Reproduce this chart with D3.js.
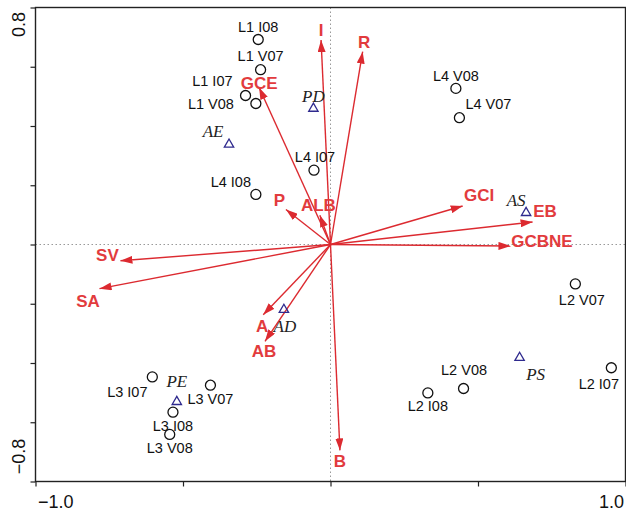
<!DOCTYPE html>
<html>
<head>
<meta charset="utf-8">
<script src="https://cdn.jsdelivr.net/npm/d3@7"></script>
<style>
  body { margin: 0; background: #fff; }
  svg { display: block; }
</style>
</head>
<body>
<script>
// sites (circles)
const siteNames = ["L1 I08", "L1 V07", "L1 I07", "L1 V08", "L4 I08", "L4 I07", "L4 V08", "L4 V07",
                   "L2 V07", "L2 I07", "L2 V08", "L2 I08", "L3 I07", "L3 V07", "L3 I08", "L3 V08"];
const siteX = [-0.245, -0.237, -0.288, -0.253, -0.253, -0.056, 0.425, 0.437,
               0.830, 0.952, 0.451, 0.330, -0.604, -0.407, -0.534, -0.545];
const siteY = [0.692, 0.590, 0.503, 0.476, 0.169, 0.251, 0.527, 0.428,
               -0.133, -0.416, -0.486, -0.501, -0.447, -0.475, -0.566, -0.641];

// species (triangles)
const speciesNames = ["PD", "AE", "AS", "AD", "PE", "PS"];
const speciesX = [-0.058, -0.344, 0.663, -0.158, -0.521, 0.641];
const speciesY = [0.459, 0.338, 0.107, -0.220, -0.531, -0.382];

// environmental variables (arrows)
const varNames = ["I", "R", "GCE", "P", "ALB", "GCI", "EB", "GCBNE", "SV", "SA", "A", "AB", "B"];
const varX = [-0.032, 0.109, -0.242, -0.151, -0.036, 0.448, 0.685, 0.610, -0.712, -0.783, -0.228, -0.222, 0.032];
const varY = [0.690, 0.651, 0.530, 0.118, 0.099, 0.130, 0.076, -0.005, -0.055, -0.149, -0.237, -0.327, -0.695];

const xTicks = [-1, -0.5, 0, 0.5, 1];
const yTicks = [-0.8, -0.6, -0.4, -0.2, 0, 0.2, 0.4, 0.6, 0.8];

// label offsets in pixels (layout only)
const siteLab = {
  "L1 I08": [0, -13, "middle"], "L1 V07": [0, -14, "middle"], "L1 I07": [-13, -14.5, "end"],
  "L1 V08": [-22, 0, "end"], "L4 I08": [-25, -12.5, "middle"], "L4 I07": [1, -13, "middle"],
  "L4 V08": [0, -13, "middle"], "L4 V07": [29, -13.5, "middle"], "L2 V07": [6.5, 15.5, "middle"],
  "L2 I07": [-12.5, 16, "middle"], "L2 V08": [0.5, -18.5, "middle"], "L2 I08": [0, 13, "middle"],
  "L3 I07": [-25, 15, "middle"], "L3 V07": [0, 14, "middle"], "L3 I08": [0, 13.5, "middle"],
  "L3 V08": [0, 13.5, "middle"]
};
const speciesLab = {
  PD: [0, -12.5], AE: [-16, -13.5], AS: [-10, -12.5], AD: [1, 16], PE: [0, -20.5], PS: [16, 16]
};
const varLab = {
  I: [0, -10], R: [1.5, -9.5], GCE: [0, -5], P: [-6.5, -10], ALB: [-1.5, -10.5], GCI: [16.5, -11.5],
  EB: [12.5, -11], GCBNE: [31.5, -5], SV: [-13, -5.5], SA: [-11.5, 12.5], A: [-1, 11], AB: [-1, 9.5], B: [0, 10]
};

const W = 626, H = 513;
const x = d3.scaleLinear().domain([-1, 1]).range([35.5, 625.5]);
const y = d3.scaleLinear().domain([-0.8, 0.8]).range([481.5, 7.5]);

const svg = d3.select("body").append("svg").attr("width", W).attr("height", H);

const red = "#dc2a30";
const redText = "#e23b3d";
const blue = "#2f2a8e";

svg.append("defs").append("marker")
  .attr("id", "head")
  .attr("viewBox", "0 0 12 8")
  .attr("refX", 12).attr("refY", 4)
  .attr("markerWidth", 12).attr("markerHeight", 8)
  .attr("markerUnits", "userSpaceOnUse")
  .attr("orient", "auto")
  .append("path").attr("d", "M0,0 L12,4 L0,8 Z").attr("fill", red);

// zero lines
svg.append("line")
  .attr("x1", x(0)).attr("x2", x(0)).attr("y1", y(0.8)).attr("y2", y(-0.8))
  .attr("stroke", "#999").attr("stroke-width", 1).attr("stroke-dasharray", "1.5,2.5");
svg.append("line")
  .attr("x1", x(-1)).attr("x2", x(1)).attr("y1", y(0)).attr("y2", y(0))
  .attr("stroke", "#999").attr("stroke-width", 1).attr("stroke-dasharray", "1.5,2.5");

// frame
svg.append("rect")
  .attr("x", x(-1)).attr("y", y(0.8))
  .attr("width", x(1) - x(-1)).attr("height", y(-0.8) - y(0.8))
  .attr("fill", "none").attr("stroke", "#222").attr("stroke-width", 1.4);

// axes
const xAxis = svg.append("g")
  .attr("transform", `translate(0,${y(-0.8)})`)
  .call(d3.axisBottom(x).tickValues(xTicks).tickSize(5).tickSizeOuter(0)
    .tickFormat(d => (d === -1 || d === 1) ? d3.format(".1f")(d) : ""));
xAxis.select(".domain").remove();
xAxis.selectAll(".tick line").attr("stroke", "#222").attr("stroke-width", 1.2);
xAxis.selectAll(".tick text")
  .attr("font-family", "Liberation Sans, Arial, sans-serif").attr("font-size", 18).attr("fill", "#111")
  .attr("y", 14)
  .attr("text-anchor", d => d === -1 ? "start" : "end")
  .attr("dx", d => d === -1 ? 2 : -2);

const yAxis = svg.append("g")
  .attr("transform", `translate(${x(-1)},0)`)
  .call(d3.axisLeft(y).tickValues(yTicks).tickSize(5).tickSizeOuter(0)
    .tickFormat(d => (Math.abs(d) === 0.8) ? d3.format(".1f")(d) : ""));
yAxis.select(".domain").remove();
yAxis.selectAll(".tick line").attr("stroke", "#222").attr("stroke-width", 1.2);
yAxis.selectAll(".tick text")
  .attr("font-family", "Liberation Sans, Arial, sans-serif").attr("font-size", 18).attr("fill", "#111")
  .attr("x", 0).attr("dy", 0)
  .attr("text-anchor", "middle")
  .attr("transform", d => `translate(-11,${d > 0 ? 16.5 : -25.5}) rotate(-90)`);

// arrows
const vars = varNames.map((n, i) => ({ name: n, x: varX[i], y: varY[i] }));
svg.append("g").selectAll("line").data(vars).join("line")
  .attr("x1", x(0)).attr("y1", y(0))
  .attr("x2", d => x(d.x)).attr("y2", d => y(d.y))
  .attr("stroke", red).attr("stroke-width", 1.4)
  .attr("marker-end", "url(#head)");

// sites
const sites = siteNames.map((n, i) => ({ name: n, x: siteX[i], y: siteY[i] }));
svg.append("g").selectAll("circle").data(sites).join("circle")
  .attr("cx", d => x(d.x)).attr("cy", d => y(d.y)).attr("r", 5)
  .attr("fill", "none").attr("stroke", "#111").attr("stroke-width", 1.3);
svg.append("g").selectAll("text").data(sites).join("text")
  .attr("x", d => x(d.x) + siteLab[d.name][0])
  .attr("y", d => y(d.y) + siteLab[d.name][1])
  .attr("dy", "0.36em")
  .attr("text-anchor", d => siteLab[d.name][2])
  .attr("font-family", "Liberation Sans, Arial, sans-serif").attr("font-size", 14.5).attr("fill", "#111")
  .text(d => d.name);

// species
const species = speciesNames.map((n, i) => ({ name: n, x: speciesX[i], y: speciesY[i] }));
svg.append("g").selectAll("path").data(species).join("path")
  .attr("transform", d => `translate(${x(d.x)},${y(d.y)})`)
  .attr("d", d3.symbol(d3.symbolTriangle).size(38))
  .attr("fill", "none").attr("stroke", blue).attr("stroke-width", 1.3);
svg.append("g").selectAll("text").data(species).join("text")
  .attr("x", d => x(d.x) + speciesLab[d.name][0])
  .attr("y", d => y(d.y) + speciesLab[d.name][1])
  .attr("dy", "0.35em")
  .attr("text-anchor", "middle")
  .attr("font-family", "Liberation Serif, Times New Roman, serif").attr("font-style", "italic")
  .attr("font-size", 17).attr("fill", "#222")
  .text(d => d.name);

// variable labels
svg.append("g").selectAll("text").data(vars).join("text")
  .attr("x", d => x(d.x) + varLab[d.name][0])
  .attr("y", d => y(d.y) + varLab[d.name][1])
  .attr("dy", "0.36em")
  .attr("text-anchor", "middle")
  .attr("font-family", "Liberation Sans, Arial, sans-serif").attr("font-weight", "bold")
  .attr("font-size", 17).attr("fill", redText)
  .text(d => d.name);
</script>
</body>
</html>
